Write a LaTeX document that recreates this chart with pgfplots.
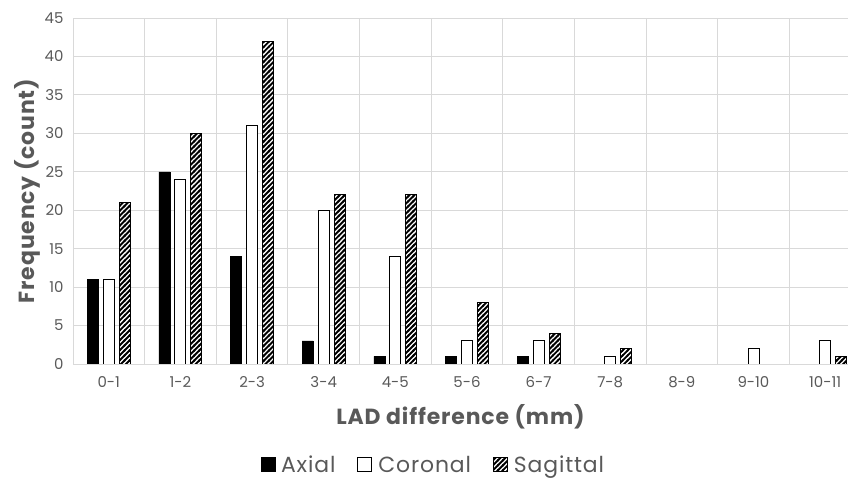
\documentclass[border=0pt]{standalone}
\usepackage{fontspec}
\setmainfont{Poppins}
\newfontfamily\widefont[LetterSpace=4]{Poppins}
\usepackage{pgfplots}
\pgfplotsset{compat=1.18}
\usetikzlibrary{patterns}
\pgfdeclarepatternformonly{thickstripes}{\pgfpoint{-1pt}{-1pt}}{\pgfpoint{6pt}{6pt}}{\pgfpoint{5pt}{5pt}}{%
  \pgfsetlinewidth{1.9pt}%
  \pgfpathmoveto{\pgfpoint{-1pt}{-1pt}}\pgfpathlineto{\pgfpoint{6pt}{6pt}}%
  \pgfusepath{stroke}}
\definecolor{txt}{HTML}{595959}
\definecolor{gridc}{HTML}{D9D9D9}
\begin{document}
\begin{tikzpicture}
\useasboundingbox (0,0) rectangle (848bp,480bp);
\begin{axis}[
  at={(73bp,116bp)}, anchor=south west,
  width=775bp, height=346bp, scale only axis,
  ybar=5bp, bar width=11bp,
  xmin=-0.5, xmax=10.32, ymin=0, ymax=45,
  ytick={0,5,...,45},
  xtick={0,...,10},
  xticklabels={0-1,1-2,2-3,3-4,4-5,5-6,6-7,7-8,8-9,9-10,10-11},
  minor xtick={-0.5,0.5,...,9.5},
  xminorgrids, ymajorgrids,
  grid style={gridc, line width=0.8pt},
  minor grid style={gridc, line width=0.8pt},
  axis x line*=bottom, axis y line*=left,
  y axis line style={draw=none},
  x axis line style={gridc, line width=1pt, -},
  major tick length=0pt, minor tick length=0pt,
  /pgf/number format/assume math mode=true,
  tick label style={font=\fontsize{15}{15}\selectfont, text=txt},
  xticklabel style={yshift=-9bp},
  yticklabel style={xshift=-6bp},
  xlabel={LAD difference (mm)},
  ylabel={Frequency (count)},
  label style={font=\widefont\bfseries\fontsize{22}{22}\selectfont, text=txt},
  xlabel style={yshift=-10bp},
  ylabel style={yshift=-2bp},
  legend style={at={(0.465,-0.292)}, anchor=center, draw=none, fill=none,
    legend columns=3, font=\widefont\fontsize{22}{22}\selectfont, text=txt,
    /tikz/every even column/.append style={column sep=20bp}},
  legend image code/.code={\draw[#1] (0bp,-6bp) rectangle (14bp,8bp);},
]
\addplot[fill=black, draw=black] coordinates {(0,11) (1,25) (2,14) (3,3) (4,1) (5,1) (6,1) (7,0) (8,0) (9,0) (10,0)};
\addplot[fill=white, draw=black, line width=0.9pt] coordinates {(0,11) (1,24) (2,31) (3,20) (4,14) (5,3) (6,3) (7,1) (8,0) (9,2) (10,3)};
\addplot[draw=black, line width=0.9pt, preaction={fill=white}, pattern=thickstripes] coordinates {(0,21) (1,30) (2,42) (3,22) (4,22) (5,8) (6,4) (7,2) (8,0) (9,0) (10,1)};
\legend{\hspace{4bp}Axial,\hspace{4bp}Coronal,\hspace{4bp}Sagittal}
\end{axis}
\end{tikzpicture}
\end{document}
